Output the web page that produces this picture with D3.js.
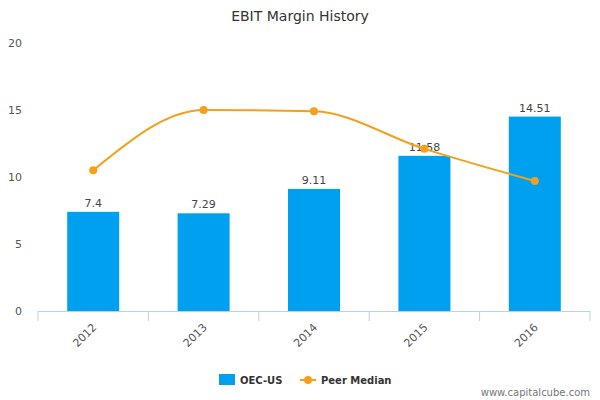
<!DOCTYPE html>
<html lang="en">
<head>
  <meta charset="UTF-8">
  <script src="https://d3js.org/d3.v7.min.js"></script>
  <title>EBIT Margin History</title>
  <style>body{margin:0;background:#fff;font-family:"DejaVu Sans",sans-serif}</style>
</head>
<body>
  <div class="chart"></div>
  <script>
    const years = ['2012', '2013', '2014', '2015', '2016'];
    const oecValues = [7.4, 7.29, 9.11, 11.58, 14.51];
    const peerMedian = [10.5, 15.0, 14.9, 12.1, 9.7];
    const yTicks = [0, 5, 10, 15, 20];

    const svg = d3.select('.chart').append('svg').attr('width', 600).attr('height', 400);

    svg.append('text').attr('x', 300).attr('y', 21).attr('text-anchor', 'middle')
      .style('font-size', '14px').style('fill', '#333').text('EBIT Margin History');

    const x = d3.scaleBand().domain(years).range([38, 590]);
    const y = d3.scaleLinear().domain([0, 20]).range([311, 43]);

    // y labels, no grid lines in the reference
    svg.selectAll('.ylab').data(yTicks).join('text')
      .attr('x', 22).attr('y', d => y(d) + 4).attr('text-anchor', 'end')
      .style('font-size', '11px').style('fill', '#555').text(d => d);

    // x axis
    svg.append('line').attr('x1', 38).attr('x2', 590).attr('y1', 311.5).attr('y2', 311.5)
      .attr('stroke', '#c0d0e0');
    svg.selectAll('.xtick').data(years.concat(['end'])).join('line')
      .attr('x1', (d, i) => 38 + i * x.step()).attr('x2', (d, i) => 38 + i * x.step())
      .attr('y1', 311).attr('y2', 321).attr('stroke', '#c0d0e0');
    svg.selectAll('.xlab').data(years).join('text')
      .attr('transform', d => `translate(${x(d) + x.bandwidth() / 2 + 4},${328}) rotate(-45)`)
      .attr('text-anchor', 'end').style('font-size', '11px').style('fill', '#555').text(d => d);

    const bw = 52;
    svg.selectAll('.bar').data(oecValues).join('rect')
      .attr('x', (d, i) => x(years[i]) + x.bandwidth() / 2 - bw / 2)
      .attr('y', d => y(d)).attr('width', bw).attr('height', d => y(0) - y(d))
      .attr('fill', '#00a0f0');
    svg.selectAll('.blab').data(oecValues).join('text')
      .attr('x', (d, i) => x(years[i]) + x.bandwidth() / 2).attr('y', d => y(d) - 5)
      .attr('text-anchor', 'middle').style('font-size', '11px').style('fill', '#444').text(d => d);

    const line = d3.line().x((d, i) => x(years[i]) + x.bandwidth() / 2).y(d => y(d)).curve(d3.curveMonotoneX);
    svg.append('path').datum(peerMedian).attr('d', line).attr('fill', 'none')
      .attr('stroke', '#f5a01a').attr('stroke-width', 2);
    svg.selectAll('.pt').data(peerMedian).join('circle')
      .attr('cx', (d, i) => x(years[i]) + x.bandwidth() / 2).attr('cy', d => y(d)).attr('r', 4)
      .attr('fill', '#f5a01a');

    // legend
    svg.append('rect').attr('x', 219).attr('y', 374).attr('width', 16).attr('height', 11).attr('fill', '#00a0f0');
    svg.append('text').attr('x', 240).attr('y', 384).style('font-size', '10px').style('font-weight', 'bold')
      .style('fill', '#333').text('OEC-US');
    svg.append('line').attr('x1', 300).attr('x2', 316).attr('y1', 380).attr('y2', 380).attr('stroke', '#f5a01a').attr('stroke-width', 2);
    svg.append('circle').attr('cx', 308).attr('cy', 380).attr('r', 4).attr('fill', '#f5a01a');
    svg.append('text').attr('x', 321).attr('y', 384).style('font-size', '10px').style('font-weight', 'bold')
      .style('fill', '#333').text('Peer Median');

    svg.append('text').attr('x', 590).attr('y', 396).attr('text-anchor', 'end')
      .style('font-size', '10px').style('fill', '#777').text('www.capitalcube.com');
  </script>
</body>
</html>
